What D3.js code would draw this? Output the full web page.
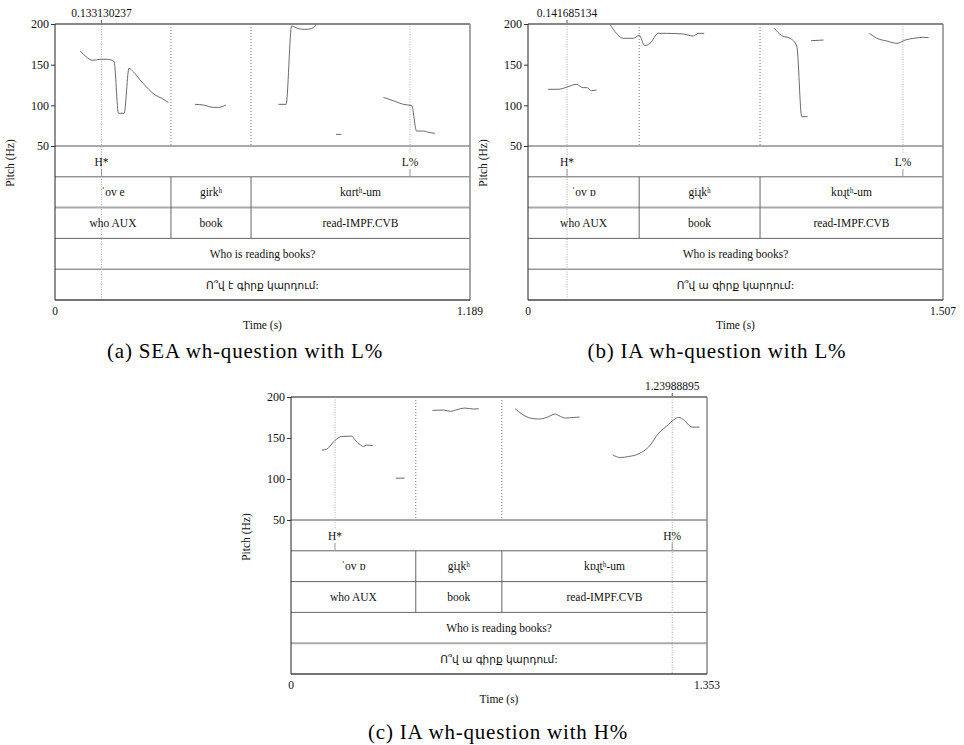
<!DOCTYPE html>
<html>
<head>
<meta charset="utf-8">
<script src="https://cdn.jsdelivr.net/npm/d3@7"></script>
<style>
body { margin: 0; background: #fff; }
text { font-family: "Liberation Serif", "DejaVu Serif", serif; fill: #111; }
.arm { font-family: "DejaVu Sans", sans-serif; }
.cap { font-family: "Liberation Serif", serif; fill: #000; letter-spacing: 0.8px; }
</style>
</head>
<body>
<script>
// ---- data ----
var yTicks = [50, 100, 150, 200];

// (a) SEA wh-question with L%
var durA = 1.189;
var cursorA = 0.133130237;
var boundsA = [0.3323, 0.5616];
var toneTimesA = [0.133130237, 1.0171];
var toneLabelsA = ['H*', 'L%'];
var wordsA = ['\u02C8ov e', 'girk\u02B0', 'k\u0251rt\u02B0-um'];
var glossA = ['who AUX', 'book', 'read-IMPF.CVB'];
var translA = 'Who is reading books?';
var armA = 'Ո՞վ է գիրք կարդում:';
var pitchA = [
  [[0.072,166.8],[0.089,159.8],[0.108,155.3],[0.129,156.6],[0.151,156.6],[0.169,154.1],[0.182,90.2],[0.198,90.2],[0.212,145.5],[0.224,141.4],[0.244,131.1],[0.263,122.1],[0.287,112.7],[0.306,108.6],[0.325,103.3]],
  [[0.401,101.2],[0.425,100.4],[0.454,97.5],[0.468,97.5],[0.490,100.4]],
  [[0.640,101.2],[0.662,101.2],[0.678,197.5],[0.697,194.3],[0.716,193.4],[0.735,194.3],[0.754,200],[0.759,200]],
  [[0.805,64.3],[0.821,64.3]],
  [[0.941,109.8],[0.969,105.7],[0.998,101.2],[1.022,99.6],[1.036,68.4],[1.055,68.4],[1.074,66.4],[1.089,65.6]]
];

// (b) IA wh-question with L%
var durB = 1.507;
var cursorB = 0.141685134;
var boundsB = [0.4037, 0.8426];
var toneTimesB = [0.141685134, 1.3615];
var toneLabelsB = ['H*', 'L%'];
var wordsB = ['\u02C8ov \u0252', 'gi\u027Bk\u02B0', 'k\u0252\u027Bt\u02B0-um'];
var glossB = ['who AUX', 'book', 'read-IMPF.CVB'];
var translB = 'Who is reading books?';
var armB = 'Ո՞վ ա գիրք կարդում:';
var pitchB = [
  [[0.073,119.7],[0.109,119.7],[0.139,122.1],[0.176,125.8],[0.200,121.7],[0.215,121.7],[0.230,118.0],[0.249,118.9]],
  [[0.297,200],[0.321,188.5],[0.346,182.4],[0.382,182.4],[0.404,186.1],[0.424,173.4],[0.443,176.2],[0.473,188.5],[0.503,188.5],[0.564,187.7],[0.600,185.2],[0.618,188.5],[0.640,188.5]],
  [[0.895,194.7],[0.921,185.7],[0.952,182.4],[0.976,172.9],[0.994,86.1],[1.015,86.1]],
  [[1.028,179.5],[1.073,180.3]],
  [[1.240,188.5],[1.267,182.4],[1.303,179.1],[1.340,176.2],[1.370,180.3],[1.400,182.4],[1.437,183.6],[1.455,183.2]]
];

// (c) IA wh-question with H%
var durC = 1.353;
var cursorC = 1.23988895;
var boundsC = [0.4058, 0.6857];
var toneTimesC = [0.1432, 1.23988895];
var toneLabelsC = ['H*', 'H%'];
var wordsC = ['\u02C8ov \u0252', 'gi\u027Bk\u02B0', 'k\u0252\u027Bt\u02B0-um'];
var glossC = ['who AUX', 'book', 'read-IMPF.CVB'];
var translC = 'Who is reading books?';
var armC = 'Ո՞վ ա գիրք կարդում:';
var pitchC = [
  [[0.100,135.2],[0.116,136.4],[0.143,147.0],[0.165,151.9],[0.198,152.3],[0.208,147.8],[0.225,141.7],[0.235,139.7],[0.246,141.3],[0.266,140.9]],
  [[0.341,101.0],[0.369,101.0]],
  [[0.460,183.7],[0.496,184.1],[0.518,182.5],[0.539,184.5],[0.566,186.5],[0.594,185.3],[0.610,185.7]],
  [[0.729,185.7],[0.751,179.2],[0.778,174.3],[0.805,173.1],[0.832,175.1],[0.859,179.2],[0.876,176.4],[0.892,174.3],[0.919,175.1],[0.939,175.5]],
  [[1.046,129.5],[1.071,126.2],[1.098,127.4],[1.131,130.7],[1.163,138.9],[1.196,156.0],[1.223,164.9],[1.245,172.3],[1.261,175.1],[1.277,172.3],[1.304,163.3],[1.329,163.3]]
];

var captions = ['(a) SEA wh-question with L%', '(b) IA wh-question with L%', '(c) IA wh-question with H%'];

// ---- canvas ----
var svg = d3.select('body').append('svg').attr('width', 964).attr('height', 745);

svg.append('defs').append('clipPath').attr('id', 'clipA')
  .append('rect').attr('x', 0).attr('y', 0).attr('width', 483).attr('height', 745);

var tierH = 30.8;
var fs = 11.5;

function drawPanel(opt) {
  var g = svg.append('g');
  if (opt.clip) g.attr('clip-path', 'url(#' + opt.clip + ')');

  var x = d3.scaleLinear().domain([0, opt.dur]).range([opt.x0, opt.x1]);
  var y = d3.scaleLinear().domain([50, 200]).range([opt.y50, opt.yTop]);
  var tierY = d3.range(6).map(function(i) { return opt.y50 + i * tierH; });
  var yBot = tierY[5];

  // tier boundary lines
  tierY.slice(1, 5).forEach(function(ty, i) {
    var thick = (i + 1) === opt.thickTier;
    g.append('line').attr('x1', opt.x0).attr('x2', opt.x1).attr('y1', ty).attr('y2', ty)
      .attr('stroke', thick ? '#aaa' : '#666').attr('stroke-width', thick ? 2 : 1);
  });
  // 50 Hz line
  g.append('line').attr('x1', opt.x0).attr('x2', opt.x1).attr('y1', opt.y50).attr('y2', opt.y50)
    .attr('stroke', '#555').attr('stroke-width', 1);

  // word boundaries: dotted in pitch area, solid in word + gloss tiers
  opt.bounds.forEach(function(b) {
    g.append('line').attr('x1', x(b)).attr('x2', x(b)).attr('y1', opt.yTop).attr('y2', opt.y50)
      .attr('stroke', '#777').attr('stroke-dasharray', '1,2');
    g.append('line').attr('x1', x(b)).attr('x2', x(b)).attr('y1', tierY[1]).attr('y2', tierY[3])
      .attr('stroke', '#666');
  });

  // tone points
  opt.toneTimes.forEach(function(t, i) {
    var isCursor = Math.abs(t - opt.cursor) < 1e-6;
    g.append('line').attr('x1', x(t)).attr('x2', x(t)).attr('y1', opt.yTop)
      .attr('y2', isCursor ? yBot : opt.y50 + 8)
      .attr('stroke', '#aaa').attr('stroke-dasharray', '1,1.5');
    g.append('line').attr('x1', x(t)).attr('x2', x(t)).attr('y1', opt.y50 + 23).attr('y2', tierY[1])
      .attr('stroke', '#999');
    g.append('text').attr('x', x(t)).attr('y', opt.y50 + 19.5).attr('text-anchor', 'middle')
      .attr('font-size', fs).text(opt.toneLabels[i]);
  });

  // cursor label on top
  g.append('line').attr('x1', x(opt.cursor)).attr('x2', x(opt.cursor))
    .attr('y1', opt.yTop - 4).attr('y2', opt.yTop).attr('stroke', '#555');
  g.append('text').attr('x', x(opt.cursor)).attr('y', opt.yTop - 7).attr('text-anchor', 'middle')
    .attr('font-size', fs).text(String(opt.cursor));

  // pitch contour
  var line = d3.line().x(function(d) { return x(d[0]); }).y(function(d) { return y(d[1]); })
    .curve(d3.curveMonotoneX);
  g.selectAll('path.f0').data(opt.pitch).enter().append('path').attr('class', 'f0')
    .attr('d', line).attr('fill', 'none').attr('stroke', '#6a6a6a').attr('stroke-width', 1);

  // tier texts
  var edges = [0].concat(opt.bounds).concat([opt.dur]);
  var midY = function(k) { return (tierY[k] + tierY[k + 1]) / 2 + 4; };
  opt.words.forEach(function(w, i) {
    g.append('text').attr('x', (x(edges[i]) + x(edges[i + 1])) / 2).attr('y', midY(1))
      .attr('text-anchor', 'middle').attr('font-size', fs).text(w);
  });
  opt.gloss.forEach(function(w, i) {
    g.append('text').attr('x', (x(edges[i]) + x(edges[i + 1])) / 2).attr('y', midY(2))
      .attr('text-anchor', 'middle').attr('font-size', fs).text(w);
  });
  g.append('text').attr('x', (opt.x0 + opt.x1) / 2).attr('y', midY(3))
    .attr('text-anchor', 'middle').attr('font-size', fs).text(opt.transl);
  g.append('text').attr('class', 'arm').attr('x', (opt.x0 + opt.x1) / 2).attr('y', midY(4))
    .attr('text-anchor', 'middle').attr('font-size', 10.5).text(opt.arm);

  // frame
  g.append('line').attr('x1', opt.x0).attr('x2', opt.x1).attr('y1', opt.yTop).attr('y2', opt.yTop)
    .attr('stroke', '#888').attr('stroke-width', 2);
  g.append('line').attr('x1', opt.x1).attr('x2', opt.x1).attr('y1', opt.yTop).attr('y2', yBot)
    .attr('stroke', '#888').attr('stroke-width', 1.5);
  g.append('line').attr('x1', opt.x0).attr('x2', opt.x1).attr('y1', yBot).attr('y2', yBot)
    .attr('stroke', '#444').attr('stroke-width', 1.5);
  g.append('line').attr('x1', opt.x0).attr('x2', opt.x0).attr('y1', opt.yTop).attr('y2', yBot)
    .attr('stroke', '#222').attr('stroke-width', 1);

  // y axis
  var yAxis = d3.axisLeft(y).tickValues(yTicks).tickSize(4).tickPadding(2).tickFormat(d3.format('d'));
  var ya = g.append('g').attr('transform', 'translate(' + opt.x0 + ',0)').call(yAxis);
  ya.select('.domain').remove();
  ya.selectAll('text').attr('font-size', 12).attr('font-family', '"Liberation Serif", serif').attr('fill', '#111');
  ya.selectAll('line').attr('stroke', '#333');

  g.append('text').attr('transform', 'translate(' + (opt.x0 - 41) + ',' + (opt.y50 + 17) + ') rotate(-90)')
    .attr('text-anchor', 'middle').attr('font-size', fs).text('Pitch (Hz)');

  // x axis: only the end values
  g.append('text').attr('x', opt.x0).attr('y', yBot + 15).attr('text-anchor', 'middle')
    .attr('font-size', fs).text('0');
  g.append('text').attr('x', opt.x1).attr('y', yBot + 15).attr('text-anchor', 'middle')
    .attr('font-size', fs).text(String(opt.dur));
  g.append('text').attr('x', (opt.x0 + opt.x1) / 2).attr('y', yBot + 29).attr('text-anchor', 'middle')
    .attr('font-size', fs).text('Time (s)');

  // caption
  svg.append('text').attr('class', 'cap').attr('x', opt.capX).attr('y', opt.capY)
    .attr('text-anchor', 'middle').attr('font-size', 21).text(opt.caption);
}

drawPanel({ x0: 55, x1: 470, yTop: 24, y50: 146, dur: durA, cursor: cursorA, bounds: boundsA,
  toneTimes: toneTimesA, toneLabels: toneLabelsA, words: wordsA, gloss: glossA, transl: translA,
  arm: armA, pitch: pitchA, thickTier: 2, clip: 'clipA', caption: captions[0], capX: 245, capY: 358 });
drawPanel({ x0: 528, x1: 943, yTop: 24, y50: 146, dur: durB, cursor: cursorB, bounds: boundsB,
  toneTimes: toneTimesB, toneLabels: toneLabelsB, words: wordsB, gloss: glossB, transl: translB,
  arm: armB, pitch: pitchB, thickTier: 2, caption: captions[1], capX: 717, capY: 358 });
drawPanel({ x0: 291, x1: 707, yTop: 397, y50: 520, dur: durC, cursor: cursorC, bounds: boundsC,
  toneTimes: toneTimesC, toneLabels: toneLabelsC, words: wordsC, gloss: glossC, transl: translC,
  arm: armC, pitch: pitchC, thickTier: 4, caption: captions[2], capX: 498, capY: 739 });
</script>
</body>
</html>
